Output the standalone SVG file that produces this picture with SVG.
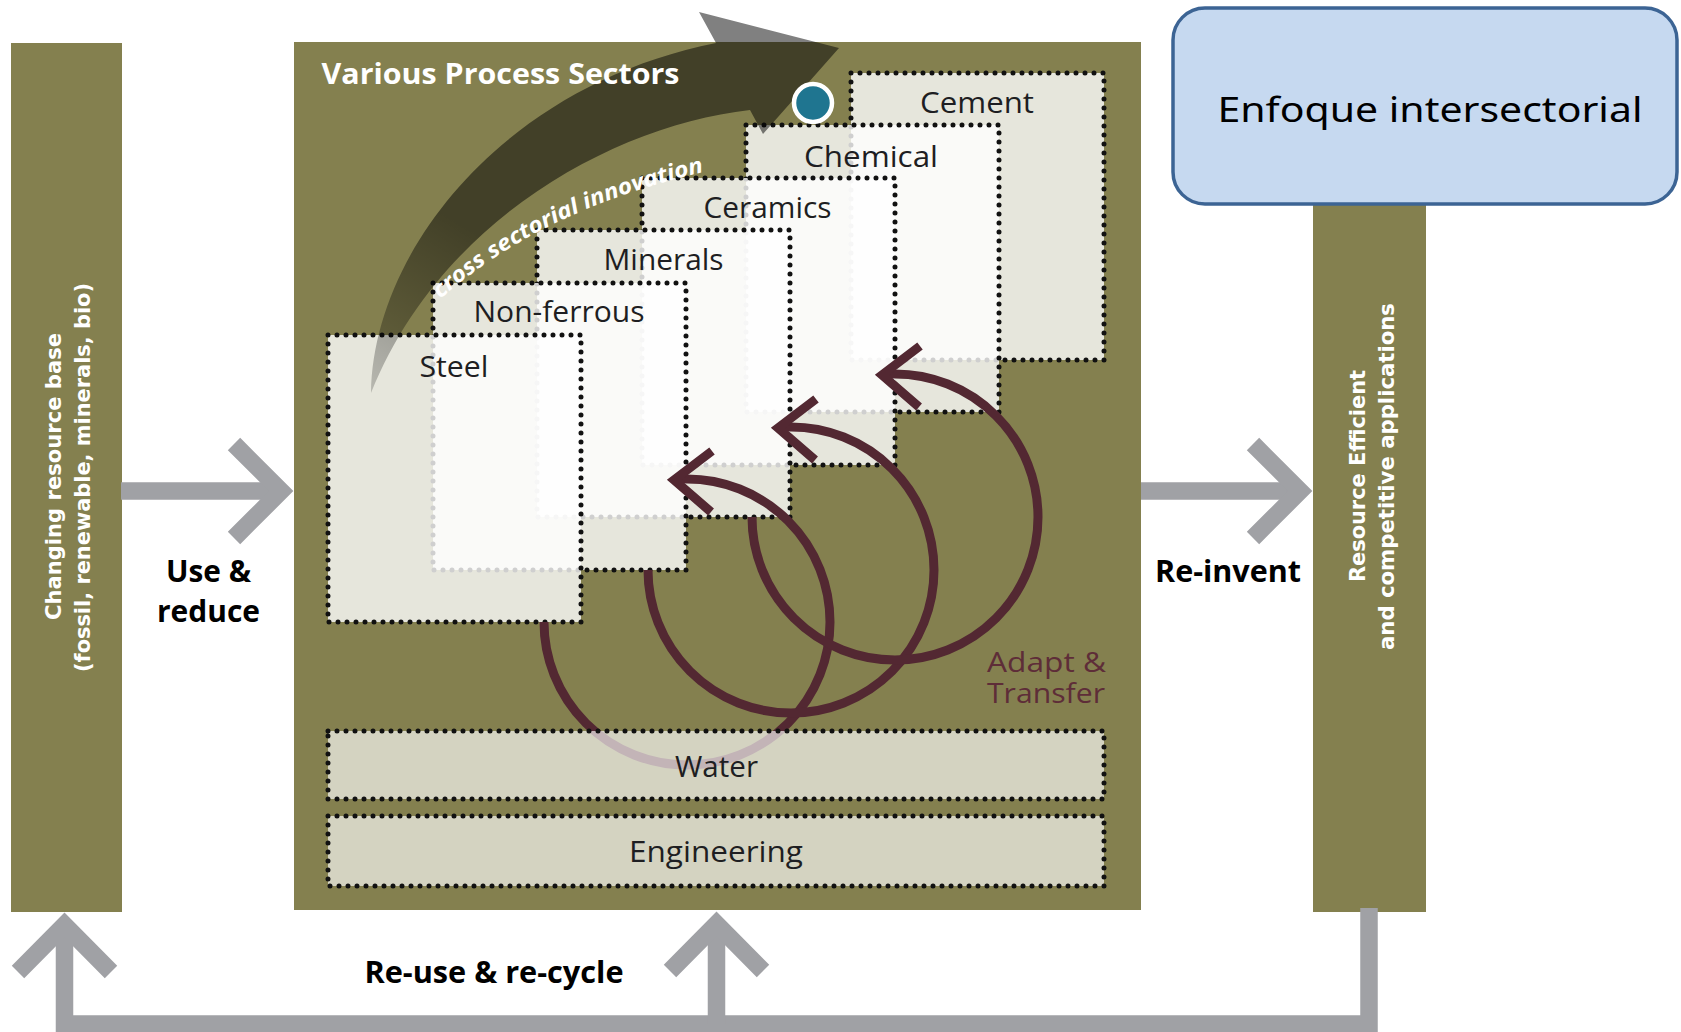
<svg xmlns="http://www.w3.org/2000/svg" width="1681" height="1032" viewBox="0 0 1681 1032">
  <style>
    .olive { fill: #84804F; }
    .sector { fill: #FFFFFF; fill-opacity: 0.8; stroke: #111111; stroke-width: 5; stroke-dasharray: 0 9; stroke-linecap: round; }
    .band { fill: #FFFFFF; fill-opacity: 0.65; stroke: #111111; stroke-width: 5; stroke-dasharray: 0 9; stroke-linecap: round; }
    .lbl { font-family: "Open Sans", "Noto Sans", "Liberation Sans", sans-serif; font-size: 29px; fill: #1E1E22; }
    .bold { font-family: "Open Sans", "Noto Sans", "Liberation Sans", sans-serif; font-size: 30px; font-weight: bold; fill: #000000; }
    .title { font-family: "Open Sans", "Noto Sans", "Liberation Sans", sans-serif; font-size: 29px; font-weight: bold; fill: #FFFFFF; }
    .vert { font-family: "DejaVu Sans", "Liberation Sans", sans-serif; font-size: 22px; font-weight: bold; fill: #FFFFFF; text-anchor: middle; }
    .adapt { font-family: "Open Sans", "Noto Sans", "Liberation Sans", sans-serif; font-size: 27px; fill: #5E2D38; }
    .innov { font-family: "Open Sans", "Noto Sans", "Liberation Sans", sans-serif; font-size: 22px; font-weight: bold; font-style: italic; fill: #FFFFFF; }
    .enf { font-family: "Noto Sans", "Open Sans", "Liberation Sans", sans-serif; font-size: 34px; fill: #000000; text-anchor: middle; }
    .gray { fill: none; stroke: #A0A1A5; stroke-width: 17.5; stroke-linejoin: miter; stroke-miterlimit: 10; }
    .loop { fill: none; stroke: #532832; stroke-width: 9; }
    .loophead { fill: none; stroke: #532832; stroke-width: 9; stroke-linejoin: miter; stroke-miterlimit: 10; }
  </style>
  <defs>
    <linearGradient id="arrowFade" gradientUnits="userSpaceOnUse" x1="371" y1="393" x2="470" y2="230">
      <stop offset="0" stop-color="#000000" stop-opacity="0.2"/>
      <stop offset="1" stop-color="#000000" stop-opacity="0.5"/>
    </linearGradient>
    <path id="innovPath" d="M 438 301 Q 548 203 727 167" fill="none"/>
  </defs>

  <rect width="1681" height="1032" fill="#FFFFFF"/>

  <g id="resource-base">
    <rect class="olive" x="11" y="43" width="111" height="869"/>
    <text class="vert" transform="translate(61 476.5) rotate(-90)" textLength="287" lengthAdjust="spacingAndGlyphs">Changing resource base</text>
    <text class="vert" transform="translate(90 477.5) rotate(-90)" textLength="389" lengthAdjust="spacingAndGlyphs">(fossil, renewable, minerals, bio)</text>
  </g>

  <g id="applications">
    <rect class="olive" x="1313" y="43" width="113" height="869"/>
    <text class="vert" transform="translate(1365 476) rotate(-90)" textLength="212" lengthAdjust="spacingAndGlyphs">Resource Efficient</text>
    <text class="vert" transform="translate(1394 476.5) rotate(-90)" textLength="347" lengthAdjust="spacingAndGlyphs">and competitive applications</text>
  </g>

  <g id="process-sectors">
    <rect class="olive" x="294" y="42" width="847" height="868"/>
  </g>

  <g id="sector-cement">
    <rect class="sector" x="851" y="73" width="253" height="287"/>
    <text class="lbl" x="920" y="113" textLength="114" lengthAdjust="spacingAndGlyphs">Cement</text>
  </g>
  <g id="sector-chemical">
    <rect class="sector" x="746" y="125" width="253" height="287"/>
    <text class="lbl" x="804" y="167" textLength="134" lengthAdjust="spacingAndGlyphs">Chemical</text>
  </g>
  <g id="sector-ceramics">
    <rect class="sector" x="642" y="178" width="253" height="287"/>
    <text class="lbl" x="703.5" y="218" textLength="128" lengthAdjust="spacingAndGlyphs">Ceramics</text>
  </g>
  <g id="sector-minerals">
    <rect class="sector" x="537" y="230" width="253" height="287"/>
    <text class="lbl" x="603.5" y="270" textLength="120" lengthAdjust="spacingAndGlyphs">Minerals</text>
  </g>
  <g id="sector-nonferrous">
    <rect class="sector" x="433" y="283" width="253" height="287"/>
    <text class="lbl" x="473.5" y="322" textLength="171" lengthAdjust="spacingAndGlyphs">Non-ferrous</text>
  </g>
  <g id="sector-steel">
    <rect class="sector" x="328" y="335" width="253" height="287"/>
    <text class="lbl" x="419.5" y="376.5" textLength="69" lengthAdjust="spacingAndGlyphs">Steel</text>
  </g>

  <g id="connectors">
    <!-- cross sectorial innovation arrow -->
    <path d="M 371 393 C 373 250 505 85 716 43 L 699 12 L 839 48 L 763 134 L 750 110 C 615 125 440 220 371 393 Z" fill="url(#arrowFade)"/>
    <text class="innov"><textPath href="#innovPath" startOffset="3" textLength="296" lengthAdjust="spacingAndGlyphs">cross sectorial innovation</textPath></text>

    <!-- adapt & transfer loops -->
    <path class="loop" d="M 544 622 A 143 143 0 1 0 687 479 L 675 479"/>
    <polyline class="loophead" points="712,451 674,480 711,512"/>
    <path class="loop" d="M 648 570 A 143 143 0 1 0 791 427 L 779 427"/>
    <polyline class="loophead" points="816,399 778,428 815,460"/>
    <path class="loop" d="M 752 517 A 143 143 0 1 0 895 374 L 883 374"/>
    <polyline class="loophead" points="920,346 882,375 919,407"/>

    <!-- use & reduce -->
    <path class="gray" d="M 121 491 H 284"/>
    <polyline class="gray" points="234,444 281,491 234,538"/>
    <!-- re-invent -->
    <path class="gray" d="M 1141 491 H 1298"/>
    <polyline class="gray" points="1253,444 1300,491 1253,538"/>
    <!-- re-use & re-cycle loop -->
    <path class="gray" d="M 1369 908 V 1024 H 64.5 V 928"/>
    <polyline class="gray" points="18,972 64.5,925 111,972"/>
    <path class="gray" d="M 716.5 1024 V 928"/>
    <polyline class="gray" points="670,971 716.5,924 763,971"/>
  </g>

  <g id="innovation-marker">
    <circle cx="813" cy="103" r="19" fill="#1F7590" stroke="#FFFFFF" stroke-width="4.5"/>
  </g>

  <g id="water">
    <rect class="band" x="328" y="731" width="776" height="68"/>
    <text class="lbl" x="675" y="777" textLength="83" lengthAdjust="spacingAndGlyphs">Water</text>
  </g>
  <g id="engineering">
    <rect class="band" x="328" y="816" width="776" height="70"/>
    <text class="lbl" x="629" y="862" textLength="174" lengthAdjust="spacingAndGlyphs">Engineering</text>
  </g>

  <g id="labels">
    <text class="title" x="321.5" y="84" textLength="358" lengthAdjust="spacingAndGlyphs">Various Process Sectors</text>
    <text class="adapt" x="987" y="672" textLength="119" lengthAdjust="spacingAndGlyphs">Adapt &amp;</text>
    <text class="adapt" x="987" y="703" textLength="118" lengthAdjust="spacingAndGlyphs">Transfer</text>
    <text class="bold" x="166" y="582" textLength="85" lengthAdjust="spacingAndGlyphs">Use &amp;</text>
    <text class="bold" x="157" y="622" textLength="103" lengthAdjust="spacingAndGlyphs">reduce</text>
    <text class="bold" x="1155" y="582" textLength="146" lengthAdjust="spacingAndGlyphs">Re-invent</text>
    <text class="bold" x="364.5" y="983" textLength="259" lengthAdjust="spacingAndGlyphs">Re-use &amp; re-cycle</text>
  </g>

  <g id="enfoque">
    <rect x="1173" y="8" width="504" height="196" rx="32" ry="32" fill="#C6D9F0" stroke="#3C6494" stroke-width="3.5"/>
    <text class="enf" x="1430" y="122" textLength="425" lengthAdjust="spacingAndGlyphs">Enfoque intersectorial</text>
  </g>
</svg>
